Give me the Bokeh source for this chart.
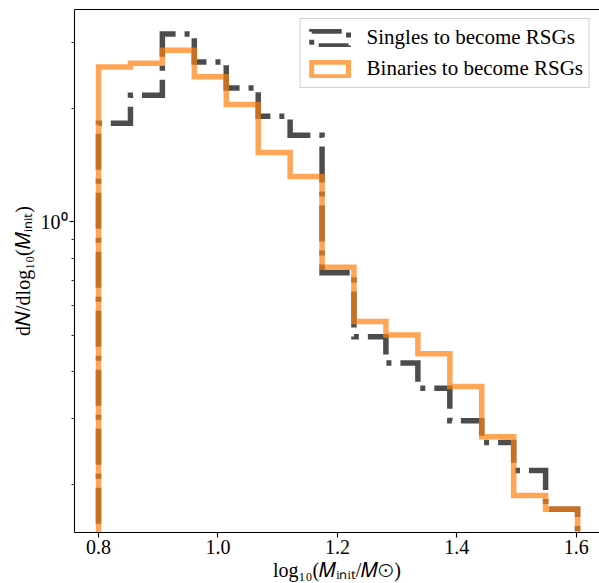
from bokeh.plotting import figure
from bokeh.models import (FixedTicker, LinearAxis, Legend, LegendItem, Range1d,
                          CustomJSTickFormatter)
from bokeh.embed import file_html
from bokeh.resources import INLINE

# histogram bin edges in log10(M_init / Msun)
bin_edges = [0.8, 0.8535, 0.9069, 0.9604, 1.0139, 1.0674, 1.1208, 1.1743,
             1.2277, 1.2812, 1.3347, 1.3882, 1.4416, 1.4951, 1.5486, 1.6021]

# dN/dlog10(M_init) per bin
singles = [1.83, 2.17, 3.16, 2.66, 2.27, 1.91, 1.70, 0.732,
           0.495, 0.421, 0.361, 0.296, 0.259, 0.218, 0.172]
binaries = [2.58, 2.64, 2.86, 2.43, 2.05, 1.53, 1.32, 0.757,
            0.543, 0.500, 0.446, 0.365, 0.268, 0.187, 0.172]

x_ticks = [0.8, 1.0, 1.2, 1.4, 1.6]
y_major = [1.0]
y_minor = [0.2, 0.3, 0.4, 0.5, 0.6, 0.7, 0.8, 0.9, 2.0, 3.0]

labels = ["Singles to become RSGs", "Binaries to become RSGs"]

FLOOR = 1e-3


def step_xy(edges, vals):
    xs = [edges[0]]
    ys = [FLOOR]
    for i, v in enumerate(vals):
        xs += [edges[i], edges[i + 1]]
        ys += [v, v]
    xs.append(edges[-1])
    ys.append(FLOOR)
    return xs, ys


FONT = "Liberation Serif"

p = figure(width=599, height=583, y_axis_type="log",
           x_range=Range1d(0.7598, 1.6388), y_range=Range1d(0.1492, 3.670),
           output_backend="svg", toolbar_location=None,
           min_border_left=74, min_border_right=0, min_border_top=9,
           min_border_bottom=50)
p.outline_line_color = None
p.grid.visible = False
p.background_fill_color = "white"
p.border_fill_color = "white"

sx, sy = step_xy(bin_edges, singles)
bx, by = step_xy(bin_edges, binaries)

p.line(sx, sy, line_color="black", line_alpha=0.7, line_width=5.5,
       line_dash="36 9 5 9", line_join="miter", line_cap="butt")
p.line(bx, by, line_color="#ff7f0e", line_alpha=0.7, line_width=5.5,
       line_join="miter", line_cap="butt")

# off-screen proxies, used only for the legend icons
leg_s = p.quad(left=[10], right=[11], top=[100], bottom=[50], fill_alpha=0,
               line_color="black", line_alpha=0.7, line_width=5,
               line_dash="30 8 5 8", line_join="miter")
leg_b = p.quad(left=[10], right=[11], top=[100], bottom=[50], fill_alpha=0,
               line_color="#ff7f0e", line_alpha=0.7, line_width=5,
               line_join="miter")

legend = Legend(items=[LegendItem(label=labels[0], renderers=[leg_s]),
                       LegendItem(label=labels[1], renderers=[leg_b])],
                location="top_right", margin=9, padding=6, spacing=6,
                glyph_width=46, glyph_height=18, label_standoff=14,
                label_height=24, label_text_font=FONT,
                label_text_font_size="21px", label_text_color="black",
                border_line_color="#d0d0d0", border_line_width=1,
                border_line_alpha=1.0, background_fill_alpha=0.8)
p.add_layout(legend)

for ax in (p.xaxis[0], p.yaxis[0]):
    ax.axis_line_color = "black"
    ax.axis_line_width = 1.1
    ax.major_tick_line_color = "black"
    ax.minor_tick_line_color = "black"
    ax.major_tick_line_width = 1.1
    ax.minor_tick_line_width = 0.8
    ax.major_tick_out = 5
    ax.major_tick_in = 0
    ax.minor_tick_out = 3
    ax.minor_tick_in = 0
    ax.major_label_text_font = FONT
    ax.major_label_text_font_size = "20px"
    ax.major_label_text_color = "black"
    ax.axis_label_text_font = FONT
    ax.axis_label_text_font_size = "20px"
    ax.axis_label_text_font_style = "normal"
    ax.axis_label_text_color = "black"

p.xaxis.ticker = FixedTicker(ticks=x_ticks)
p.xaxis.formatter = CustomJSTickFormatter(code="return tick.toFixed(1);")
p.xaxis.major_label_standoff = 2
p.xaxis.axis_label_standoff = 2
p.xaxis.axis_label = "log\u2081\u2080(\U0001D440\u1D62\u2099\u1D62\u209C/\U0001D440\u2299)"

p.yaxis.ticker = FixedTicker(ticks=y_major, minor_ticks=y_minor)
p.yaxis.formatter = CustomJSTickFormatter(code="return tick == 1 ? '10\u2070' : '';")
p.yaxis.major_label_standoff = 2
p.yaxis.axis_label_standoff = 4
p.yaxis.axis_label = "d\U0001D441/dlog\u2081\u2080(\U0001D440\u1D62\u2099\u1D62\u209C)"

top_axis = LinearAxis(ticker=FixedTicker(ticks=[]), axis_line_color="black",
                      axis_line_width=1.1, major_tick_line_color=None,
                      minor_tick_line_color=None,
                      major_label_text_font_size="0px")
p.add_layout(top_axis, "above")

open("out.html", "w").write(file_html(p, INLINE))
